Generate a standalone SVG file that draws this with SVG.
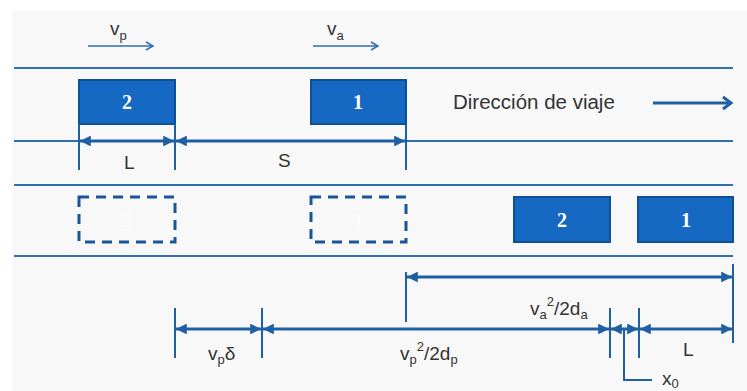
<svg xmlns="http://www.w3.org/2000/svg" width="747" height="391" viewBox="0 0 747 391">
<defs>
<marker id="ah" viewBox="0 0 10 10" refX="10" refY="5" markerWidth="3.6" markerHeight="3.6" orient="auto-start-reverse" markerUnits="strokeWidth">
<path d="M0,0 L10,5 L0,10 z" fill="#1f5fa5"/>
</marker>
<style>
.lane{stroke:#2f6fb3;stroke-width:2;fill:none}
.car{fill:#1669c2;stroke:#0f4f96;stroke-width:2}
.ghost{fill:none;stroke:#1a5599;stroke-width:3;stroke-dasharray:10 7}
.num{font-family:"Liberation Serif",serif;font-weight:bold;font-size:20px;fill:#ffffff;text-anchor:middle}
.gnum{font-family:"Liberation Serif",serif;font-weight:bold;font-size:20px;fill:#ffffff;text-anchor:middle;opacity:0.6}
.lbl{font-family:"Liberation Sans",Arial,sans-serif;font-size:19px;fill:#333333}
.sub{font-size:13px}
.tick{stroke:#1f5fa5;stroke-width:2;fill:none}
.dim{stroke:#1f5fa5;stroke-width:3;fill:none;marker-start:url(#ah);marker-end:url(#ah)}
.thin{stroke:#2f6fb3;stroke-width:1.5;fill:none}
</style>
</defs>
<rect x="0" y="0" width="747" height="391" fill="#ffffff"/>
<rect x="12" y="10" width="735" height="381" fill="#f8f8f8"/>

<g id="lanes">
<line class="lane" x1="14" y1="68" x2="733" y2="68"/>
<line class="lane" x1="14" y1="141" x2="733" y2="141"/>
<line class="lane" x1="14" y1="185" x2="733" y2="185"/>
<line class="lane" x1="14" y1="256" x2="733" y2="256"/>
</g>

<g id="speed-vp">
<text class="lbl" x="110" y="35">v<tspan class="sub" dy="5">p</tspan></text>
<line class="thin" x1="88" y1="46" x2="153" y2="46"/>
<polyline class="thin" points="146,42 153,46 146,50"/>
</g>
<g id="speed-va">
<text class="lbl" x="327" y="35">v<tspan class="sub" dy="5">a</tspan></text>
<line class="thin" x1="313" y1="46" x2="378" y2="46"/>
<polyline class="thin" points="371,42 378,46 371,50"/>
</g>

<g id="car2-top"><rect class="car" x="79" y="80" width="96" height="44"/><text class="num" x="127" y="109">2</text></g>
<g id="car1-top"><rect class="car" x="311" y="80" width="95" height="44"/><text class="num" x="358" y="109">1</text></g>

<g id="direction">
<text class="lbl" x="453" y="109" style="font-size:20.5px">Dirección de viaje</text>
<line x1="653" y1="103" x2="730" y2="103" stroke="#1f5fa5" stroke-width="3"/>
<polyline points="723,97 731,103 723,109" stroke="#1f5fa5" stroke-width="3" fill="none"/>
</g>

<g id="car2-ghost"><rect class="ghost" x="79" y="197" width="96" height="45"/><text class="gnum" x="127" y="227">2</text></g>
<g id="car1-ghost"><rect class="ghost" x="311" y="197" width="95" height="45"/><text class="gnum" x="358" y="227">1</text></g>

<g id="car2-bottom"><rect class="car" x="514" y="197" width="96" height="45"/><text class="num" x="562" y="227">2</text></g>
<g id="car1-bottom"><rect class="car" x="638" y="197" width="95" height="45"/><text class="num" x="686" y="227">1</text></g>

<g id="connectors">
<line class="tick" x1="79" y1="124" x2="79" y2="170"/>
<line class="tick" x1="175" y1="124" x2="175" y2="170"/>
<line class="tick" x1="406" y1="124" x2="406" y2="170"/>
<line class="dim" x1="80" y1="141" x2="174" y2="141"/>
<line class="dim" x1="176" y1="141" x2="405" y2="141"/>

<line class="tick" x1="406" y1="272" x2="406" y2="322"/>
<line class="tick" x1="733" y1="264" x2="733" y2="343"/>
<line class="dim" x1="407" y1="277" x2="732" y2="277"/>

<line class="tick" x1="175" y1="308" x2="175" y2="358"/>
<line class="tick" x1="262" y1="308" x2="262" y2="358"/>
<line class="tick" x1="610" y1="308" x2="610" y2="358"/>
<line class="tick" x1="639" y1="308" x2="639" y2="358"/>
<line class="dim" x1="176" y1="329" x2="261" y2="329"/>
<line class="dim" x1="263" y1="329" x2="609" y2="329"/>
<line class="dim" x1="611" y1="329" x2="638" y2="329"/>
<line class="dim" x1="640" y1="329" x2="732" y2="329"/>
<polyline class="tick" points="624,329 624,380 652,380"/>
</g>

<g id="labels">
<text class="lbl" x="124" y="169">L</text>
<text class="lbl" x="278" y="167">S</text>
<text class="lbl" x="530" y="315">v<tspan class="sub" dy="4">a</tspan><tspan class="sub" dy="-13">2</tspan><tspan dy="9">/2d</tspan><tspan class="sub" dy="4">a</tspan></text>
<text class="lbl" x="208" y="360">v<tspan class="sub" dy="4">p</tspan><tspan dy="-4">δ</tspan></text>
<text class="lbl" x="400" y="360">v<tspan class="sub" dy="4">p</tspan><tspan class="sub" dy="-13">2</tspan><tspan dy="9">/2d</tspan><tspan class="sub" dy="4">p</tspan></text>
<text class="lbl" x="683" y="356">L</text>
<text class="lbl" x="662" y="385">x<tspan class="sub" dy="3">0</tspan></text>
</g>
</svg>
